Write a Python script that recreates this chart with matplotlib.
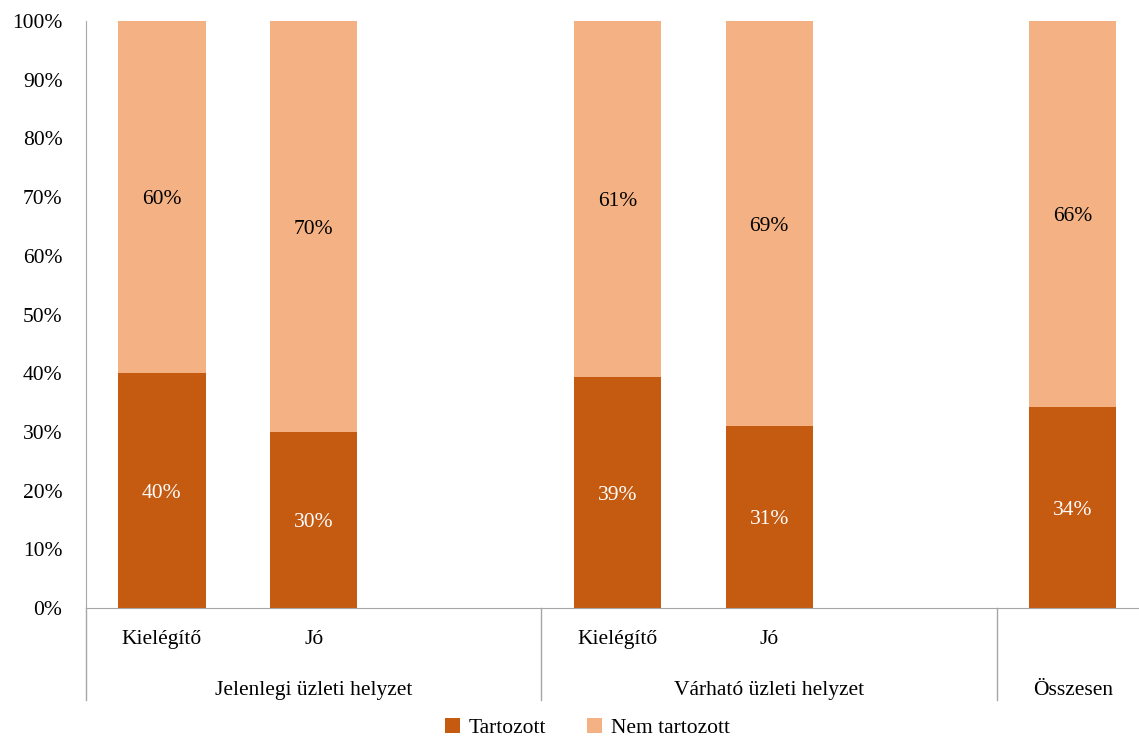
import matplotlib.pyplot as plt
import matplotlib.transforms as mtransforms
import numpy as np

# data
categories = ['Kielégítő', 'Jó', '', 'Kielégítő', 'Jó', '', '']
groups = ['Jelenlegi üzleti helyzet', 'Várható üzleti helyzet', 'Összesen']
group_slots = [(0, 2), (3, 5), (6, 6)]  # first/last slot of each group
tartozott = [40, 30, np.nan, 39.3, 31.0, np.nan, 34.2]
nem_tartozott = [60, 70, np.nan, 60.7, 69.0, np.nan, 65.8]
tart_labels = ['40%', '30%', '', '39%', '31%', '', '34%']
nem_labels = ['60%', '70%', '', '61%', '69%', '', '66%']

dark = '#C55A11'
light = '#F4B183'
plt.rcParams['font.family'] = ['Liberation Serif', 'DejaVu Serif']
fs = 15.5

fig = plt.figure(figsize=(11.39, 7.38), dpi=100)
ax = fig.add_axes([0.0755, 0.176, 0.933, 0.7955])

x = np.arange(len(categories))
w = 0.575
b1 = ax.bar(x, tartozott, w, color=dark, label='Tartozott')
b2 = ax.bar(x, nem_tartozott, w, bottom=tartozott, color=light, label='Nem tartozott')

for i in x:
    if tart_labels[i]:
        ax.text(i, tartozott[i] / 2, tart_labels[i], ha='center', va='center_baseline',
                color='white', fontsize=fs)
        ax.text(i, tartozott[i] + nem_tartozott[i] / 2, nem_labels[i], ha='center',
                va='center_baseline', color='black', fontsize=fs)

ax.set_xlim(-0.5, len(categories) - 0.5)
ax.set_ylim(0, 100)
ax.set_yticks(np.arange(0, 101, 10))
ax.set_yticklabels([f'{v}%' for v in range(0, 101, 10)], fontsize=fs)
ax.tick_params(axis='y', length=0, pad=17)
ax.set_xticks(x)
ax.set_xticklabels(categories, fontsize=fs)
ax.tick_params(axis='x', length=0, pad=16)

for s in ['top', 'right']:
    ax.spines[s].set_visible(False)
for s in ['left', 'bottom']:
    ax.spines[s].set_color('#A6A6A6')

# group labels and separators below the axis
trans = mtransforms.blended_transform_factory(ax.transData, ax.transAxes)
for g, (a, b) in zip(groups, group_slots):
    ax.text((a + b) / 2, -0.14, g, transform=trans, ha='center', va='center', fontsize=fs)
for xs in [-0.5, 2.5, 5.5]:
    ax.plot([xs, xs], [0, -0.157], transform=trans, color='#A6A6A6', lw=1, clip_on=False)

fig.legend(handles=[b1, b2], loc='center', bbox_to_anchor=(0.516, 0.013), ncol=2,
           frameon=False, fontsize=fs, handlelength=0.7, handleheight=0.7,
           handletextpad=0.4, columnspacing=1.9)

fig.savefig('out.png', dpi=100)
